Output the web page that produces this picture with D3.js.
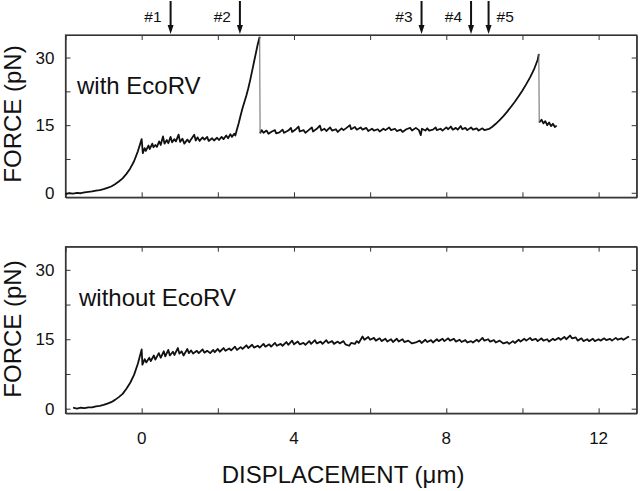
<!DOCTYPE html>
<html>
<head>
<meta charset="utf-8">
<script src="https://cdn.jsdelivr.net/npm/d3@7/dist/d3.min.js"></script>
<style>
  html, body { margin: 0; padding: 0; background: #fff; }
  svg { display: block; }
  text { font-family: "Liberation Sans", Arial, sans-serif; fill: #111; }
</style>
</head>
<body>
<svg id="chart" width="640" height="491"></svg>
<script>
// ---------------- DATA ----------------
const xTicks = [-2, 0, 2, 4, 6, 8, 10, 12];
const xTickLabels = [0, 4, 8, 12];
const yTicks = [0, 7.5, 15, 22.5, 30];
const yTickLabels = [0, 15, 30];

// Cutting events (displacement, μm)
const arrowNames = ["#1", "#2", "#3", "#4", "#5"];
const arrowX = [0.76, 2.58, 7.35, 8.65, 9.11];

// with EcoRV – three continuous pieces separated by sudden force drops
const withSeg1 = [
  [-2.0,-0.3],[-1.9,-0.1],[-1.8,-0.2],[-1.7,0.0],[-1.6,-0.1],[-1.5,0.1],[-1.4,0.2],[-1.3,0.3],
  [-1.2,0.5],[-1.1,0.6],[-1.0,0.8],[-0.9,1.1],[-0.8,1.4],[-0.7,1.9],[-0.6,2.5],[-0.5,3.2],
  [-0.4,4.2],[-0.3,5.4],[-0.2,7.0],[-0.1,9.2],[0.0,11.9],
  [0.03,8.8],[0.08,9.9],[0.11,9.3],[0.18,10.5],[0.21,9.7],[0.28,10.9],[0.31,10.1],[0.36,10.6],
  [0.40,10.2],[0.46,11.4],[0.50,10.6],[0.56,12.5],[0.60,10.9],[0.66,11.7],[0.70,11.0],[0.76,12.4],
  [0.80,11.2],[0.86,11.9],[0.90,11.4],[0.97,12.9],[1.01,11.3],[1.07,12.0],[1.12,10.9],[1.20,11.8],
  [1.25,11.2],[1.30,11.9],[1.38,12.9],[1.42,11.6],[1.47,12.3],[1.52,11.5],[1.60,12.3],[1.65,11.8],
  [1.72,12.4],[1.76,11.5],[1.85,12.1],[1.90,11.6],[1.98,12.2],[2.03,11.7],[2.10,12.4],[2.15,11.9],
  [2.22,12.7],[2.27,12.1],[2.33,13.0],[2.37,12.4],[2.43,13.1],[2.46,12.7],
  [2.50,14.0],[2.55,15.5],[2.60,17.2],[2.65,18.8],[2.70,20.2],[2.75,21.6],[2.80,23.2],[2.85,25.0],
  [2.90,27.0],[2.95,29.0],[3.00,31.0],[3.05,33.0],[3.10,34.6]
];
const withSeg2 = [
  [3.11,13.2],[3.15,13.9],[3.20,13.3],[3.28,13.8],[3.33,13.1],[3.42,13.6],[3.50,13.9],[3.53,13.2],
  [3.62,13.4],[3.70,14.0],[3.74,13.3],[3.85,13.8],[3.92,14.4],[3.95,13.5],[4.05,14.1],[4.12,14.7],
  [4.15,13.6],[4.25,13.9],[4.30,13.3],[4.40,14.0],[4.47,14.5],[4.50,13.6],[4.60,14.2],[4.68,14.9],
  [4.72,13.8],[4.80,14.2],[4.85,13.7],[4.95,14.5],[5.00,13.8],[5.10,14.1],[5.15,13.5],[5.25,14.3],
  [5.30,13.9],[5.38,14.4],[5.47,15.0],[5.50,14.1],[5.60,14.6],[5.65,14.0],[5.75,14.5],[5.80,14.0],
  [5.90,14.4],[5.95,13.7],[6.05,14.2],[6.10,13.8],[6.20,14.1],[6.25,13.6],[6.35,14.2],[6.40,13.9],
  [6.50,14.5],[6.55,13.9],[6.65,14.2],[6.70,13.7],[6.80,14.0],[6.85,13.5],[6.95,14.1],[7.05,14.4],
  [7.10,13.8],[7.20,14.4],[7.28,13.9],[7.33,12.8],[7.36,14.2],[7.45,13.8],[7.50,14.3],[7.55,13.8],
  [7.65,14.0],[7.72,14.5],[7.75,13.9],[7.85,14.2],[7.90,13.8],[8.00,14.5],[8.05,14.1],[8.12,14.7],
  [8.17,14.0],[8.25,14.4],[8.30,14.0],[8.38,14.8],[8.42,14.1],[8.50,14.4],[8.55,13.9],[8.65,14.5],
  [8.70,14.0],[8.80,14.3],[8.85,13.8],[8.95,14.3],[9.00,13.9],[9.10,14.1],[9.15,14.3],
  [9.2,14.6],[9.3,15.3],[9.4,16.1],[9.5,17.0],[9.6,18.0],[9.7,19.1],[9.8,20.2],[9.9,21.4],
  [10.0,22.7],[10.1,24.1],[10.2,25.6],[10.3,27.3],[10.4,29.5],[10.43,30.8]
];
const withSeg3 = [
  [10.44,15.6],[10.5,16.2],[10.55,15.4],[10.6,15.9],[10.65,15.0],[10.7,15.6],[10.75,14.8],
  [10.8,15.3],[10.85,14.6],[10.9,14.9]
];

// without EcoRV
const withoutData = [
  [-1.8,0.2],[-1.7,0.0],[-1.6,0.2],[-1.5,0.1],[-1.4,0.3],[-1.3,0.3],[-1.2,0.5],[-1.1,0.6],
  [-1.0,0.8],[-0.9,1.1],[-0.8,1.4],[-0.7,1.9],[-0.6,2.5],[-0.5,3.2],[-0.4,4.3],[-0.3,5.6],
  [-0.2,7.3],[-0.1,9.7],[0.0,12.8],
  [0.02,9.5],[0.08,10.7],[0.12,10.0],[0.20,11.0],[0.24,10.3],[0.32,11.5],[0.36,10.6],[0.45,12.0],
  [0.50,11.0],[0.58,12.4],[0.62,11.3],[0.70,12.7],[0.74,11.5],[0.82,12.3],[0.86,11.6],[0.95,13.1],
  [0.99,11.9],[1.05,12.4],[1.10,11.5],[1.20,12.9],[1.24,12.0],[1.30,12.6],[1.35,11.9],[1.45,12.5],
  [1.50,12.0],[1.60,12.8],[1.65,12.1],[1.72,12.5],[1.80,12.0],[1.88,12.7],[1.92,12.2],[2.00,12.9],
  [2.05,12.3],[2.15,13.1],[2.20,12.5],[2.30,13.0],[2.35,12.6],[2.45,13.4],[2.50,12.7],[2.60,13.3],
  [2.65,12.9],[2.75,13.7],[2.80,13.1],[2.90,13.8],[2.95,13.2],[3.05,13.6],[3.10,13.2],[3.20,14.0],
  [3.25,13.4],[3.35,13.9],[3.40,13.4],[3.50,14.2],[3.55,13.6],[3.65,14.0],[3.70,13.6],[3.80,14.4],
  [3.85,13.8],[3.95,14.7],[4.00,13.9],[4.10,14.5],[4.15,13.9],[4.25,14.2],[4.30,13.8],[4.40,14.6],
  [4.45,14.0],[4.55,14.8],[4.60,14.1],[4.70,14.5],[4.75,14.0],[4.85,14.8],[4.90,14.2],[5.00,14.6],
  [5.05,14.0],[5.15,14.5],[5.20,14.1],[5.30,14.6],[5.35,13.9],[5.45,13.6],[5.50,14.2],[5.60,14.0],
  [5.65,14.6],[5.70,14.2],[5.80,15.6],[5.85,14.9],[5.95,15.5],[6.00,14.9],[6.10,15.3],[6.15,14.7],
  [6.25,15.2],[6.30,14.6],[6.40,15.1],[6.45,14.5],[6.55,15.0],[6.60,14.4],[6.70,15.1],[6.75,14.5],
  [6.85,15.0],[6.90,14.4],[7.00,14.7],[7.10,14.1],[7.20,14.3],[7.30,14.7],[7.35,14.2],[7.45,14.9],
  [7.50,14.4],[7.60,14.8],[7.65,14.3],[7.75,15.0],[7.80,14.6],[7.90,15.1],[7.95,14.6],[8.05,15.2],
  [8.10,14.7],[8.20,15.1],[8.25,14.5],[8.35,14.9],[8.40,14.4],[8.50,14.8],[8.55,14.3],[8.65,14.6],
  [8.70,14.3],[8.80,14.9],[8.85,14.5],[8.95,15.3],[9.00,14.7],[9.10,15.0],[9.15,14.5],[9.25,14.8],
  [9.30,14.3],[9.40,14.7],[9.50,14.1],[9.60,14.4],[9.65,14.0],[9.75,14.6],[9.80,14.2],[9.90,14.9],
  [9.95,14.5],[10.05,15.1],[10.10,14.7],[10.20,15.3],[10.25,14.8],[10.35,15.1],[10.40,14.6],[10.50,15.2],
  [10.55,14.7],[10.65,15.0],[10.70,14.5],[10.80,15.1],[10.85,14.8],[10.95,15.3],[11.00,14.9],[11.10,15.5],
  [11.15,15.0],[11.25,15.8],[11.30,15.2],[11.40,15.4],[11.45,14.7],[11.55,15.2],[11.60,14.6],[11.70,15.0],
  [11.75,14.6],[11.85,15.1],[11.90,14.6],[12.00,15.0],[12.05,14.7],[12.15,15.2],[12.20,14.8],[12.30,15.1],
  [12.35,14.7],[12.45,15.3],[12.50,14.9],[12.60,15.2],[12.65,14.9],[12.75,15.4],[12.80,15.6]
];

const panelLabels = ["with EcoRV", "without EcoRV"];
const xDomain = [-2, 13];
const yDomain = [-1, 35];

// ---------------- DRAW ----------------
const svg = d3.select("#chart");
const left = 65.5, right = 636.7;
const x = d3.scaleLinear().domain(xDomain).range([left, right]);

const panels = [
  { top: 35, bottom: 197.3, segs: [withSeg1, withSeg2, withSeg3], label: panelLabels[0], labelX: 77, labelY: 94, yLabelCY: 114 },
  { top: 246.7, bottom: 413.3, segs: [withoutData], label: panelLabels[1], labelX: 79, labelY: 306, yLabelCY: 329 }
];

const frameColor = "#333";

panels.forEach((p, i) => {
  const y = d3.scaleLinear().domain(yDomain).range([p.bottom, p.top]);
  const g = svg.append("g");
  const h = p.bottom - p.top;
  const tl = 5;

  const bottomAx = g.append("g").attr("transform", `translate(0,${p.bottom})`)
    .call(d3.axisBottom(x).tickValues(xTicks).tickSizeInner(-tl).tickSizeOuter(0).tickFormat(""));
  const topAx = g.append("g").attr("transform", `translate(0,${p.top})`)
    .call(d3.axisTop(x).tickValues(xTicks).tickSizeInner(-tl).tickSizeOuter(0).tickFormat(""));
  const leftAx = g.append("g").attr("transform", `translate(${left},0)`)
    .call(d3.axisLeft(y).tickValues(yTicks).tickSizeInner(-tl).tickSizeOuter(0).tickFormat(""));
  const rightAx = g.append("g").attr("transform", `translate(${right},0)`)
    .call(d3.axisRight(y).tickValues(yTicks).tickSizeInner(-tl).tickSizeOuter(0).tickFormat(""));
  [bottomAx, topAx, leftAx, rightAx].forEach(a => {
    a.selectAll("path.domain").attr("stroke", frameColor).attr("stroke-width", 1.2);
    a.selectAll(".tick line").attr("stroke", frameColor).attr("stroke-width", 1);
  });
  g.append("rect").attr("x", left).attr("y", p.top).attr("width", right - left).attr("height", h)
    .attr("fill", "none").attr("stroke", frameColor).attr("stroke-width", 1.2);

  g.selectAll("text.ytl").data(yTickLabels).enter().append("text")
    .attr("x", left - 11).attr("y", d => y(d)).attr("dy", "0.36em")
    .attr("text-anchor", "end").attr("font-size", 17).text(d => d);

  g.append("text")
    .attr("transform", `translate(21,${p.yLabelCY}) rotate(-90)`)
    .attr("text-anchor", "middle").attr("font-size", 24).text("FORCE (pN)");

  g.append("text").attr("x", p.labelX).attr("y", p.labelY).attr("font-size", 24).text(p.label);

  const line = d3.line().x(d => x(d[0])).y(d => y(d[1]));
  p.segs.forEach(s => {
    g.append("path").datum(s).attr("d", line)
      .attr("fill", "none").attr("stroke", "#111").attr("stroke-width", 1.8).attr("stroke-linejoin", "round");
  });
  for (let k = 0; k < p.segs.length - 1; k++) {
    const a = p.segs[k][p.segs[k].length - 1], b = p.segs[k + 1][0];
    g.append("path").datum([a, b]).attr("d", line)
      .attr("fill", "none").attr("stroke", "#666").attr("stroke-width", 1);
  }

  if (i === 1) {
    g.selectAll("text.xtl").data(xTickLabels).enter().append("text")
      .attr("x", d => x(d)).attr("y", 444).attr("text-anchor", "middle")
      .attr("font-size", 17).text(d => d);
    g.append("text").attr("x", 343).attr("y", 483).attr("text-anchor", "middle")
      .attr("font-size", 24).text("DISPLACEMENT (\u03BCm)");
  }
});

const ag = svg.append("g");
arrowX.forEach((v, i) => {
  const cx = x(v);
  ag.append("line").attr("x1", cx).attr("x2", cx).attr("y1", 1).attr("y2", 27)
    .attr("stroke", "#111").attr("stroke-width", 2);
  ag.append("path").attr("d", `M${cx - 3},25 L${cx + 3},25 L${cx},34 Z`).attr("fill", "#111");
  const last = i === arrowNames.length - 1;
  ag.append("text").attr("x", last ? cx + 8 : cx - 9).attr("y", 21.5)
    .attr("text-anchor", last ? "start" : "end").attr("font-size", 15.5).text(arrowNames[i]);
});
</script>
</body>
</html>
